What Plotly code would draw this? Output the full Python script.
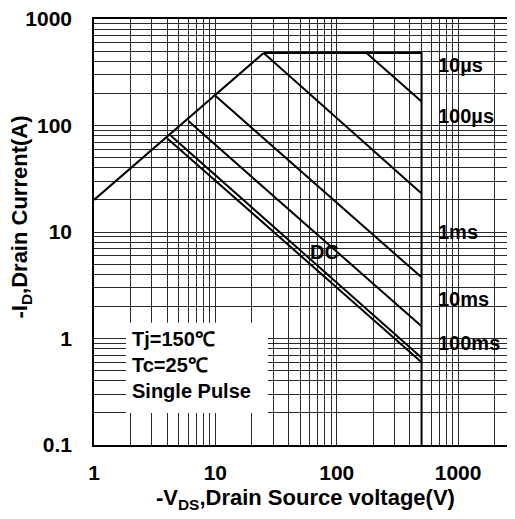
import numpy as np
import plotly.graph_objects as go

# safe operating area
rds_v = [1, 25]
rds_i = [20, 480]
limit_v = [25, 500, 500]
limit_i = [480, 480, 0.1]
us10_v = [176, 500]
us10_i = [480, 168]
us100_v = [25, 500]
us100_i = [480, 23]
ms1_v = [10, 500]
ms1_i = [190, 3.75]
ms10_v = [6, 500]
ms10_i = [110, 1.3]
ms100_v = [4.3, 500]
ms100_i = [80, 0.66]
dc_v = [4.0, 500]
dc_i = [76, 0.6]

x_major = [1, 10, 100, 1000]
y_major = [0.1, 1, 10, 100, 1000]

# label names and where they sit (V, A)
curve_labels = ["10µs", "100µs", "1ms", "10ms", "100ms"]
label_i = [370, 122, 10, 2.33, 0.9]
label_v = 660

FONT = "Liberation Sans, Arial, sans-serif"


def grid_vals(lo_exp, hi_exp, top=None):
    vals = []
    for e in range(lo_exp, hi_exp + 1):
        for m in range(1, 10):
            v = m * 10.0 ** e
            if top is None or v <= top * 1.0001:
                vals.append(v)
    return vals


def grid_text(vals, major):
    out = []
    for v in vals:
        hit = [m for m in major if abs(v - m) < 1e-9 * max(m, 1)]
        out.append(("%g" % hit[0]) if hit else "")
    return out


xv = grid_vals(0, 3, top=3000)
yv = grid_vals(-1, 3, top=1000)

fig = go.Figure()

# curves
for xs, ys in [(rds_v, rds_i), (limit_v, limit_i), (us10_v, us10_i), (us100_v, us100_i),
               (ms1_v, ms1_i), (ms10_v, ms10_i), (ms100_v, ms100_i), (dc_v, dc_i)]:
    fig.add_scatter(x=xs, y=ys, mode="lines", line=dict(color="black", width=2), showlegend=False)

fig.update_xaxes(type="log", range=[0, np.log10(3000)], tickvals=xv, ticktext=grid_text(xv, x_major),
                 showgrid=True, gridcolor="#2a2a2a", gridwidth=1, showline=True, linecolor="black",
                 linewidth=1.5, mirror=True, ticks="", ticklabelstandoff=8, zeroline=False, automargin=False,
                 ticklabeloverflow="allow",
                 tickfont=dict(family=FONT, size=21, color="black", weight="bold"))
fig.update_yaxes(type="log", range=[-1, 3], tickvals=yv, ticktext=grid_text(yv, y_major),
                 showgrid=True, gridcolor="#2a2a2a", gridwidth=1, showline=True, linecolor="black",
                 linewidth=1.5, mirror=True, ticks="", ticklabelstandoff=16, zeroline=False, automargin=False,
                 ticklabeloverflow="allow",
                 tickfont=dict(family=FONT, size=21, color="black", weight="bold"))

# curve labels
lab = dict(family=FONT, size=20, color="black", weight="bold")
for txt, yy in zip(curve_labels, label_i):
    fig.add_annotation(x=np.log10(label_v), y=np.log10(yy), text=txt, showarrow=False,
                       xanchor="left", yanchor="middle", font=lab)
fig.add_annotation(x=np.log10(80), y=np.log10(6.5), text="DC", showarrow=False, font=lab)

# condition box
fig.add_shape(type="rect", xref="paper", yref="paper", x0=0.076, x1=0.412, y0=0.075, y1=0.287,
              fillcolor="white", line=dict(width=0), layer="above")
for i, txt in enumerate(["Tj=150℃", "Tc=25℃", "Single Pulse"]):
    fig.add_annotation(xref="paper", yref="paper", x=0.086, y=0.248 - i * 0.061, text=txt,
                       showarrow=False, xanchor="left", yanchor="middle", font=lab)

# axis titles
ttl = dict(family=FONT, size=22, color="black", weight="bold")
fig.add_annotation(xref="paper", yref="paper", x=0.5, y=-0.127, text="-V<sub>DS</sub>,Drain Source voltage(V)",
                   showarrow=False, xanchor="center", yanchor="middle", font=ttl)
fig.add_annotation(xref="paper", yref="paper", x=-0.172, y=0.535, text="-I<sub>D</sub>,Drain Current(A)",
                   showarrow=False, textangle=-90, xanchor="center", yanchor="middle", font=ttl)

# the page body pushes the figure in by a few px, so shrink it by that much
fig.update_layout(width=509, height=513, margin=dict(l=86, r=1, t=11, b=76),
                  plot_bgcolor="white", paper_bgcolor="white")

fig.write_html("out.html")
